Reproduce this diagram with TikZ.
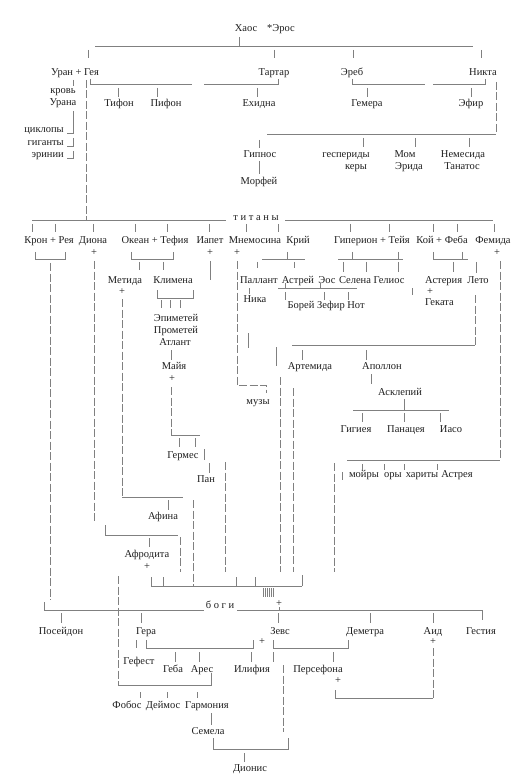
\documentclass[tikz,border=0pt]{standalone}
\usepackage{fontspec}
\setmainfont{Liberation Serif}
\begin{document}
\begin{tikzpicture}[x=1pt,y=-1pt,
  t/.style={inner sep=0pt, text height=7pt, text depth=2pt, font=\fontsize{10.5}{12}\selectfont, text=black!88},
  ln/.style={draw=black!50, line width=0.7pt},
  dl/.style={ln, dash pattern=on 8pt off 2.5pt}]
\useasboundingbox (0,0) rectangle (525,783);
\fill[white] (0,0) rectangle (525,783);

% ---------- texts ----------
\node[t] (chaos) at (246,29) {Хаос};
\node[t] (eros) at (281,29) {*Эрос};
\node[t] (uran) at (75,73) {Уран + Гея};
\node[t] (tartar) at (274,73) {Тартар};
\node[t] (ereb) at (352,73) {Эреб};
\node[t] (nikta) at (483,73) {Никта};
\node[t] (krov) at (63,91) {кровь};
\node[t] (urana) at (63,103) {Урана};
\node[t] (tifon) at (119,104) {Тифон};
\node[t] (pifon) at (166,104) {Пифон};
\node[t] (ehidna) at (259,104) {Ехидна};
\node[t] (gemera) at (367,104) {Гемера};
\node[t] (efir) at (471,104) {Эфир};
\node[t,anchor=east] (cikl) at (64,130) {циклопы};
\node[t,anchor=east] (gig) at (64,143) {гиганты};
\node[t,anchor=east] (erin) at (64,155) {эринии};
\node[t] (gipnos) at (260,155) {Гипнос};
\node[t] (morfej) at (259,182) {Морфей};
\node[t] (gesp) at (346,155) {геспериды};
\node[t] (kery) at (356,167) {керы};
\node[t] (mom) at (405,155) {Мом};
\node[t] (erida) at (409,167) {Эрида};
\node[t] (nemes) at (463,155) {Немесида};
\node[t] (tanat) at (462,167) {Танатос};
\node[t] (titany) at (256,218) {т и т а н ы};

\node[t] (kron) at (49,241) {Крон + Рея};
\node[t] (diona) at (93,241) {Диона};
\node[t] (okean) at (155,241) {Океан + Тефия};
\node[t] (iapet) at (210,241) {Иапет};
\node[t] (mnem) at (255,241) {Мнемосина};
\node[t] (krij) at (298,241) {Крий};
\node[t] (giper) at (372,241) {Гиперион + Тейя};
\node[t] (koj) at (442,241) {Кой + Феба};
\node[t] (femida) at (493,241) {Фемида};
\node[t] (pdiona) at (94,253) {+};
\node[t] (piapet) at (210,253) {+};
\node[t] (pmnem) at (237,253) {+};
\node[t] (pfem) at (497,253) {+};

\node[t] (metida) at (125,281) {Метида};
\node[t] (pmetida) at (122,292) {+};
\node[t] (klimena) at (173,281) {Климена};
\node[t] (pallant) at (259,281) {Паллант};
\node[t] (astrej) at (298,281) {Астрей};
\node[t] (eos) at (327,281) {Эос};
\node[t] (selena) at (355,281) {Селена};
\node[t] (gelios) at (389,281) {Гелиос};
\node[t,anchor=west] (asteria) at (425,281) {Астерия};
\node[t,anchor=west] (pasteria) at (427,292) {+};
\node[t,anchor=west] (gekata) at (425,303) {Геката};
\node[t] (leto) at (478,281) {Лето};
\node[t] (nika) at (255,300) {Ника};
\node[t] (borej) at (301,306) {Борей};
\node[t] (zefir) at (331,306) {Зефир};
\node[t] (not) at (356,306) {Нот};
\node[t] (epim) at (176,319) {Эпиметей};
\node[t] (prom) at (176,331) {Прометей};
\node[t] (atlant) at (175,343) {Атлант};
\node[t] (maja) at (174,367) {Майя};
\node[t] (pmaja) at (172,379) {+};
\node[t] (artemida) at (310,367) {Артемида};
\node[t] (apollon) at (382,367) {Аполлон};
\node[t] (askl) at (400,393) {Асклепий};
\node[t] (muzy) at (258,402) {музы};
\node[t] (gigieja) at (356,430) {Гигиея};
\node[t] (panaceja) at (406,430) {Панацея};
\node[t] (iaso) at (451,430) {Иасо};
\node[t] (germes) at (183,456) {Гермес};
\node[t] (pan) at (206,480) {Пан};
\node[t] (mojry) at (364,475) {мойры};
\node[t] (ory) at (393,475) {оры};
\node[t] (harity) at (422,475) {хариты};
\node[t] (astreja) at (457,475) {Астрея};
\node[t] (afina) at (163,517) {Афина};
\node[t] (afrodita) at (147,555) {Афродита};
\node[t] (pafrodita) at (147,567) {+};
\node[t] (pzevs) at (279,604) {+};
\node[t] (bogi) at (220,606) {б о г и};
\node[t] (posejdon) at (61,632) {Посейдон};
\node[t] (gera) at (146,632) {Гера};
\node[t] (zevs) at (280,632) {Зевс};
\node[t] (demetra) at (365,632) {Деметра};
\node[t] (aid) at (433,632) {Аид};
\node[t] (gestija) at (481,632) {Гестия};
\node[t] (pgera) at (262,642) {+};
\node[t] (paid) at (433,642) {+};
\node[t] (gefest) at (139,662) {Гефест};
\node[t] (geba) at (173,670) {Геба};
\node[t] (ares) at (202,670) {Арес};
\node[t] (ilifija) at (252,670) {Илифия};
\node[t] (persefona) at (318,670) {Персефона};
\node[t] (ppersef) at (338,681) {+};
\node[t] (fobos) at (127,706) {Фобос};
\node[t] (dejmos) at (163,706) {Деймос};
\node[t] (garmonija) at (207,706) {Гармония};
\node[t] (semela) at (208,732) {Семела};
\node[t] (dionis) at (250,769) {Дионис};

% ---------- connectors ----------
% Chaos
\draw[ln] (239,37) -- (239,46);
\draw[ln] (95,46) -- (473,46);
\foreach \x in {88,274,353,481} \draw[ln] (\x,50) -- (\x,58);
% row 1
\draw[ln] (73,80) -- (73,86);
\draw[dl] (86,80) -- (86,220);
\draw[ln] (90,79) -- (90,84) -- (192,84);
\draw[ln] (118,88) -- (118,97);
\draw[ln] (157,88) -- (157,97);
\draw[ln] (204,84) -- (278,84) -- (278,79);
\draw[ln] (257,88) -- (257,97);
\draw[ln] (352,79) -- (352,84) -- (425,84);
\draw[ln] (367,88) -- (367,97);
\draw[ln] (433,84) -- (485,84) -- (485,79);
\draw[ln] (471,88) -- (471,97);
\draw[dl] (496,82) -- (496,134);
\draw[ln] (267,134) -- (496,134);
\draw[ln] (259,140) -- (259,148);
\foreach \x in {363,415,469} \draw[ln] (\x,138) -- (\x,147);
\draw[ln] (259,161) -- (259,174);
% Urana
\draw[ln] (73,111) -- (73,133) -- (67,133);
\draw[ln] (73,138) -- (73,146) -- (67,146);
\draw[ln] (73,151) -- (73,158) -- (67,158);
% titans line
\draw[ln] (32,220) -- (226,220);
\draw[ln] (285,220) -- (493,220);
\foreach \x in {32,55,93,135,167,209,246,278,350,389,433,457,494} \draw[ln] (\x,224) -- (\x,232);
% titan brackets
\draw[ln] (35,252) -- (35,259) -- (65,259) -- (65,252);
\draw[dl] (50,263) -- (50,600);
\draw[dl] (94,261) -- (94,522);
\draw[ln] (131,252) -- (131,259) -- (173,259) -- (173,252);
\draw[ln] (139,262) -- (139,270);
\draw[ln] (163,262) -- (163,270);
\draw[ln] (210,261) -- (210,280);
\draw[dl] (237,261) -- (237,385) -- (266,385) -- (266,393);
\draw[ln] (262,259) -- (305,259);
\draw[ln] (287,252) -- (287,259);
\draw[ln] (257,262) -- (257,268);
\draw[ln] (294,262) -- (294,268);
\draw[ln] (338,259) -- (403,259);
\draw[ln] (352,252) -- (352,259);
\draw[ln] (398,252) -- (398,259);
\foreach \x in {343,366,398} \draw[ln] (\x,262) -- (\x,272);
\draw[ln] (433,252) -- (433,259) -- (468,259);
\draw[ln] (462,252) -- (462,259);
\draw[ln] (453,262) -- (453,272);
\draw[ln] (476,262) -- (476,273);
\draw[dl] (500,261) -- (500,460);
\draw[ln] (347,460) -- (500,460);
% row 281
\draw[dl] (122,299) -- (122,497);
\draw[ln] (122,497) -- (183,497);
\draw[ln] (157,290) -- (157,298) -- (193,298) -- (193,290);
\foreach \x in {161,170,180} \draw[ln] (\x,300) -- (\x,308);
\draw[ln] (249,288) -- (249,294);
\draw[ln] (278,288) -- (357,288);
\draw[ln] (285,283) -- (285,288);
\draw[ln] (320,283) -- (320,288);
\foreach \x in {285,324,348} \draw[ln] (\x,292) -- (\x,300);
\draw[ln] (412,288) -- (412,295);
\draw[dl] (475,295) -- (475,345);
\draw[ln] (292,345) -- (475,345);
\draw[ln] (276,347) -- (276,366);
\draw[ln] (248,333) -- (248,348);
\draw[dl] (280,377) -- (280,572);
\draw[dl] (293,388) -- (293,572);
\draw[ln] (302,350) -- (302,360);
\draw[ln] (366,350) -- (366,360);
\draw[ln] (371,374) -- (371,384);
\draw[ln] (404,399) -- (404,410);
\draw[ln] (353,410) -- (449,410);
\foreach \x in {362,404,440} \draw[ln] (\x,413) -- (\x,422);
\foreach \x in {362,384,404,437} \draw[ln] (\x,464) -- (\x,470);
\draw[dl] (334,463) -- (334,572);
\draw[ln] (342,472) -- (342,480);
% Atlant, Maja, Germes
\draw[ln] (171,350) -- (171,360);
\draw[dl] (171,387) -- (171,435);
\draw[ln] (171,435) -- (200,435);
\draw[ln] (179,438) -- (179,447);
\draw[ln] (195,438) -- (195,447);
\draw[ln] (204,449) -- (204,460);
\draw[ln] (209,463) -- (209,473);
\draw[dl] (225,462) -- (225,572);
% Metida, Dione
\draw[ln] (168,500) -- (168,510);
\draw[dl] (193,500) -- (193,586);
\draw[ln] (105,525) -- (105,535) -- (178,535);
\draw[dl] (180,537) -- (180,572);
\draw[ln] (149,538) -- (149,547);
% Zeus bottom bracket
\draw[ln] (151,586) -- (302,586);
\foreach \x in {151,163,236,255} \draw[ln] (\x,577) -- (\x,586);
\draw[ln] (302,575) -- (302,586);
\foreach \x in {263,265,267,269,271,273} \draw[ln] (\x,588) -- (\x,597);
\draw[ln] (279,607) -- (279,611);
% gods line
\draw[ln] (44,602) -- (44,610) -- (204,610);
\draw[ln] (237,610) -- (482,610);
\draw[ln] (61,613) -- (61,623);
\draw[ln] (141,613) -- (141,623);
\draw[ln] (278,613) -- (278,623);
\draw[ln] (370,613) -- (370,623);
\draw[ln] (433,613) -- (433,623);
\draw[ln] (482,610) -- (482,620);
% Aphrodite + Ares
\draw[dl] (118,576) -- (118,685);
\draw[ln] (118,685) -- (211,685) -- (211,673);
\foreach \x in {140,167,197} \draw[ln] (\x,692) -- (\x,698);
% Hera, Zeus+Demetra
\draw[ln] (136,640) -- (136,648);
\draw[ln] (146,640) -- (146,648) -- (253,648) -- (253,640);
\draw[ln] (273,640) -- (273,648) -- (348,648) -- (348,640);
\foreach \x in {175,199,251,273,333} \draw[ln] (\x,652) -- (\x,662);
\draw[dl] (283,665) -- (283,732);
\draw[ln] (211,713) -- (211,725);
\draw[ln] (213,738) -- (213,749) -- (288,749) -- (288,738);
\draw[ln] (244,753) -- (244,762);
% Aid + Persefona
\draw[dl] (433,648) -- (433,698);
\draw[ln] (335,690) -- (335,698) -- (433,698);
\end{tikzpicture}
\end{document}
